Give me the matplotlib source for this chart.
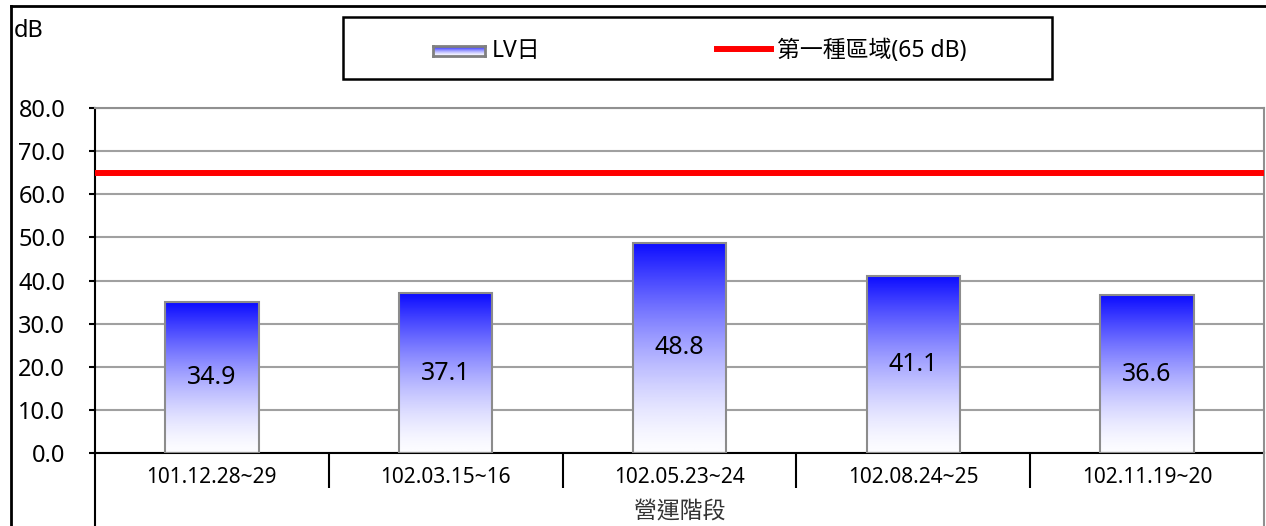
"""
Bar chart of LV day noise level per operating stage vs. class-1 zone limit
"""

import matplotlib

matplotlib.use("Agg")
import matplotlib.pyplot as plt
import numpy as np
from matplotlib.colors import LinearSegmentedColormap
from matplotlib.lines import Line2D
from matplotlib.patches import Rectangle

# data
categories = ["101.12.28~29", "102.03.15~16", "102.05.23~24", "102.08.24~25", "102.11.19~20"]
lv_day = [34.9, 37.1, 48.8, 41.1, 36.6]
limit_value = 65
y_ticks = [0, 10, 20, 30, 40, 50, 60, 70, 80]

plt.rcParams["font.family"] = ["Noto Sans", "Noto Sans CJK TC", "DejaVu Sans"]

W, H = 1266, 526


def fx(x):
    return x / W


def fy(y):
    return 1 - y / H


fig = plt.figure(figsize=(W / 100, H / 100), dpi=100)
ax = fig.add_axes([fx(95), fy(453), (1264 - 95) / W, (453 - 108) / H])

# white at the bottom, blue at the top (stays pale longer, like the original fill)
grad_cmap = LinearSegmentedColormap.from_list("blue_white", ["#fcfcff", "#0c0cff"])
grad = (np.linspace(0, 1, 256) ** 1.5).reshape(-1, 1)

x = np.arange(len(categories))
bar_w = 0.4

# gradient fill for each bar
for i, v in enumerate(lv_day):
    ax.imshow(
        grad,
        cmap=grad_cmap,
        vmin=0,
        vmax=1,
        origin="lower",
        aspect="auto",
        extent=[x[i] - bar_w / 2, x[i] + bar_w / 2, 0, v],
        zorder=2,
    )
ax.bar(x, lv_day, width=bar_w, facecolor="none", edgecolor="#8c8c8c", linewidth=1.5, zorder=3)

# value labels in the middle of the bars
for i, v in enumerate(lv_day):
    ax.text(x[i], v / 2, f"{v:.1f}", ha="center", va="center", fontsize=18, zorder=4)

# limit line
ax.axhline(limit_value, color="#ff0000", linewidth=4.3, zorder=3)

ax.set_xlim(-0.5, len(categories) - 0.5)
ax.set_ylim(0, 80)

# y axis
ax.set_yticks(y_ticks)
ax.set_yticklabels([f"{t:.1f}" for t in y_ticks])
ax.tick_params(axis="y", direction="out", length=4, width=1.5, pad=17.5, labelsize=17)
ax.yaxis.grid(True, color="#a0a0a0", linewidth=1.5, zorder=0)
ax.set_axisbelow(True)

# x axis: category labels + separators
ax.set_xticks(x)
ax.set_xticklabels(categories)
ax.tick_params(axis="x", which="major", length=0, pad=10, labelsize=15)
ax.set_xticks(np.arange(0.5, len(categories) - 1), minor=True)
ax.tick_params(axis="x", which="minor", direction="out", length=25, width=1.5)
ax.set_xlabel("營運階段", fontsize=16.5, color="#333333")
ax.xaxis.set_label_coords(0.5, -(512 - 453) / (453 - 108))
ax.xaxis.label.set_verticalalignment("center")

for side in ["left", "bottom"]:
    ax.spines[side].set_color("black")
    ax.spines[side].set_linewidth(1.5)
for side in ["top", "right"]:
    ax.spines[side].set_color("#909090")
    ax.spines[side].set_linewidth(1.5)

# axis lines running down to the bottom edge
fig.add_artist(Line2D([fx(95), fx(95)], [fy(453), 0], color="black", linewidth=1.5))
fig.add_artist(Line2D([fx(1264), fx(1264)], [fy(453), 0], color="#909090", linewidth=1.5))

# outer frame (left and top)
fig.add_artist(Line2D([fx(11), fx(11)], [fy(6), 0], color="black", linewidth=2))
fig.add_artist(Line2D([fx(11), 1], [fy(6), fy(6)], color="black", linewidth=2))

# unit label
fig.text(fx(14), fy(31), "dB", fontsize=17, ha="left", va="center")

# legend box
fig.add_artist(
    Rectangle(
        (fx(343), fy(79)),
        (1052 - 343) / W,
        (79 - 17) / H,
        transform=fig.transFigure,
        fill=False,
        edgecolor="black",
        linewidth=1.8,
    )
)
lax = fig.add_axes([fx(433), fy(56), (485 - 433) / W, (56 - 46) / H])
lax.imshow(grad, cmap=grad_cmap, vmin=0, vmax=1, origin="lower", aspect="auto")
lax.set_xticks([])
lax.set_yticks([])
for s in lax.spines.values():
    s.set_color("#808080")
    s.set_linewidth(2)
fig.text(fx(492), fy(51), "LV日", fontsize=16.5, ha="left", va="center")
fig.add_artist(Line2D([fx(717), fx(771)], [fy(49), fy(49)], color="#ff0000", linewidth=4.3))
fig.text(fx(777), fy(51), "第一種區域(65 dB)", fontsize=16.5, ha="left", va="center")

fig.savefig("out.png", dpi=100)
